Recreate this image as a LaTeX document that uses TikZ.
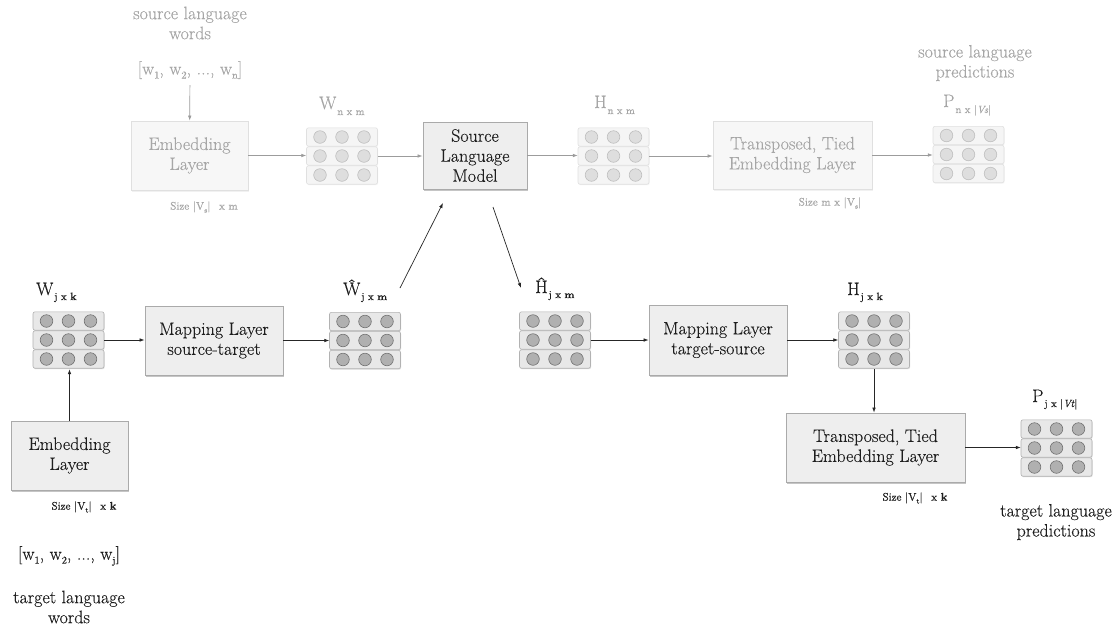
\documentclass[tikz,border=0pt]{standalone}
\usepackage{fontspec}
\setmainfont{Latin Modern Roman}[FakeBold=0.2]
\usetikzlibrary{shadows,arrows.meta,calc}

% palette
\definecolor{fadetext}{HTML}{A6A6A6}
\definecolor{fadeline}{HTML}{9C9C9C}
\definecolor{fadebox}{HTML}{E0E0E0}
\definecolor{fadefill}{HTML}{F7F7F7}
\definecolor{boxline}{HTML}{AAAAAA}
\definecolor{boxfill}{HTML}{EEEEEE}
\definecolor{inktext}{HTML}{1E1E1E}

\newcommand\bigfont{\fontsize{18}{20}\selectfont}
\newcommand\subfont{\fontsize{10.5}{12}\selectfont}
\newcommand\sizefont{\fontsize{11}{13}\selectfont}
\newcommand\tinysub{\fontsize{7}{8}\selectfont}
% lowered subscript: #1 = drop, #2 = text
\newcommand\dropsub[2]{\raisebox{-#1}{\subfont #2}}
\newcommand\wordsub[1]{\raisebox{-4pt}{\subfont #1}}
\newcommand\sizesub[1]{\raisebox{-3pt}{\tinysub #1}}

\tikzset{
  x=1pt, y=-1pt,
  layer/.style={draw=boxline, fill=boxfill, line width=0.8pt, align=center,
    font=\bigfont, text=inktext, inner sep=0pt,
    drop shadow={shadow xshift=1.2pt, shadow yshift=-2pt, fill=black!45}},
  fadelayer/.style={draw=fadebox, fill=fadefill, line width=0.8pt, align=center,
    font=\bigfont, text=fadetext, inner sep=0pt,
    drop shadow={shadow xshift=1.2pt, shadow yshift=-2pt, fill=black!10}},
  matbox/.style={minimum width=71pt, minimum height=58pt, inner sep=0pt},
  lab/.style={font=\bigfont, text=inktext, inner sep=0pt, anchor=base west},
  fadelab/.style={lab, text=fadetext},
  note/.style={font=\bigfont, text=inktext, align=center, inner sep=2pt},
  fadenote/.style={note, text=fadetext},
  sizenote/.style={font=\sizefont, text=inktext, inner sep=0pt},
  fadesizenote/.style={sizenote, text=fadetext},
  link/.style={draw=black!85, line width=0.7pt, -{Latex[length=5pt,width=3.6pt]}},
  fadelink/.style={draw=fadeline, line width=0.7pt, -{Latex[length=5pt,width=3.6pt]}},
  darkmat/.style={
    matrow/.style={draw=black!30, fill=black!9, line width=0.6pt, rounded corners=2pt,
      drop shadow={shadow xshift=0.6pt, shadow yshift=-1pt, fill=black!25}},
    matdot/.style={draw=black!55, fill=black!31, line width=0.6pt}},
  fademat/.style={
    matrow/.style={draw=black!12, fill=black!4, line width=0.6pt, rounded corners=2pt,
      drop shadow={shadow xshift=0.6pt, shadow yshift=-1pt, fill=black!8}},
    matdot/.style={draw=black!25, fill=black!13, line width=0.6pt}},
  pics/embmat/.style={code={
    \foreach \r in {-19,0,19}{
      \draw[matrow] (-35.5,\r-9.2) rectangle (35.5,\r+9.2);
      \foreach \c in {-22,0,22}
        \draw[matdot] (\c,\r) circle[radius=6.3];
    }
  }},
}

\begin{document}
\begin{tikzpicture}
\useasboundingbox[fill=white] (0,0) rectangle (1120,625);

% ---------------- source language branch (faded) ----------------
\node[fadenote] (srcwords) at (190,23) {source language\\words};
\node[fadenote] (srcw) at (190,70)
  {[w\wordsub{1}, w\wordsub{2}, ..., w\wordsub{n}]};
\node[fadelayer, minimum width=117pt, minimum height=69pt] (emb1) at (189.5,155.5)
  {Embedding\\Layer};
\node[fadesizenote] (emb1size) at (204,207) {Size |V\sizesub{s}|\hspace{5pt} x m};

\pic[fademat] at (342,156) {embmat};
\node[matbox] (wnm) at (342,156) {};
\node[fadelab] (wnmlab) at (319,109) {W\kern1pt\dropsub{6pt}{n x m}};

\node[layer, minimum width=104pt, minimum height=67pt] (slm) at (475,155.5)
  {Source\\Language\\Model};

\pic[fademat] at (613.5,156) {embmat};
\node[matbox] (hnm) at (613.5,156) {};
\node[fadelab] (hnmlab) at (594,108) {H\kern1pt\dropsub{6pt}{n x m}};

\node[fadelayer, minimum width=159pt, minimum height=68pt] (tt1) at (792.5,155)
  {Transposed, Tied\\Embedding Layer};
\node[fadesizenote] (tt1size) at (830,203) {Size m x |V\sizesub{s}|};

\pic[fademat] at (968.5,154.5) {embmat};
\node[matbox] (pnm) at (968.5,154.5) {};
\node[fadelab] (pnmlab) at (943,107) {P\kern1pt\dropsub{6pt}{n x |\textit{Vs}|}};
\node[fadenote] (srcpred) at (975,63) {source language\\predictions};

\draw[fadelink, shorten <=4pt] (srcw) -- (emb1);
\draw[fadelink] (emb1.east) -- (emb1.east -| wnm.west);
\draw[fadelink] (wnm.east) -- (wnm.east -| slm.west);
\draw[fadelink] (slm.east) -- (slm.east -| hnm.west);
\draw[fadelink] (hnm.east) -- (hnm.east -| tt1.west);
\draw[fadelink] (tt1.east) -- (tt1.east -| pnm.west);

% ---------------- target language branch ----------------
\pic[darkmat] at (68.5,340) {embmat};
\node[matbox] (wjk) at (68.5,340) {};
\node[lab] (wjklab) at (36,295) {W\kern1pt\dropsub{5pt}{j x \textbf{k}}};

\node[layer, minimum width=117pt, minimum height=69pt] (emb2) at (69.5,455.5)
  {Embedding\\Layer};
\node[sizenote] (emb2size) at (84,507) {Size |V\sizesub{t}|\hspace{5pt} x \textbf{k}};
\node[note] (tgtw) at (69,556) {[w\wordsub{1}, w\wordsub{2}, ..., w\wordsub{j}]};
\node[note] (tgtwords) at (69,607) {target language\\words};

\node[layer, minimum width=138pt, minimum height=69pt] (mapst) at (214,340.5)
  {Mapping Layer\\source-target};

\pic[darkmat] at (365,340.5) {embmat};
\node[matbox] (what) at (365,340.5) {};
\node[lab] (whatlab) at (343,295) {\^{W}\kern1pt\dropsub{5pt}{j x \textbf{m}}};

\pic[darkmat] at (555,340) {embmat};
\node[matbox] (hhat) at (555,340) {};
\node[lab] (hhatlab) at (535,293) {\^{H}\kern1pt\dropsub{5pt}{j x \textbf{m}}};

\node[layer, minimum width=138pt, minimum height=70pt] (mapts) at (718,340)
  {Mapping Layer\\target-source};

\pic[darkmat] at (874,340) {embmat};
\node[matbox] (hjk) at (874,340) {};
\node[lab] (hjklab) at (847,295) {H\kern1pt\dropsub{5pt}{j x \textbf{k}}};

\node[layer, minimum width=179pt, minimum height=69pt] (ttb) at (875.5,447.5)
  {Transposed, Tied\\Embedding Layer};
\node[sizenote] (ttbsize) at (915,498) {Size |V\sizesub{t}|\hspace{5pt} x \textbf{k}};

\pic[darkmat] at (1056.5,448) {embmat};
\node[matbox] (pjv) at (1056.5,448) {};
\node[lab] (pjvlab) at (1032,402) {P\kern1pt\dropsub{5pt}{j x |\textit{Vt}|}};
\node[note] (tgtpred) at (1056,522) {target language\\predictions};

% free ends of the two links through the source language model
\coordinate (toslm) at (443,203);
\coordinate (fromwhat) at (400,288);
\coordinate (fromslm) at (493,207);
\coordinate (tohhat) at (521,288);

\draw[link] (emb2.north) -- (emb2.north |- wjk.south);
\draw[link] (wjk.east) -- (wjk.east -| mapst.west);
\draw[link] (mapst.east) -- (mapst.east -| what.west);
\draw[link] (fromwhat) -- (toslm);
\draw[link] (fromslm) -- (tohhat);
\draw[link] (hhat.east) -- (hhat.east -| mapts.west);
\draw[link] (mapts.east) -- (mapts.east -| hjk.west);
\draw[link] (hjk.south) -- (hjk.south |- ttb.north);
\draw[link] (ttb.east) -- (ttb.east -| pjv.west);
\end{tikzpicture}
\end{document}
